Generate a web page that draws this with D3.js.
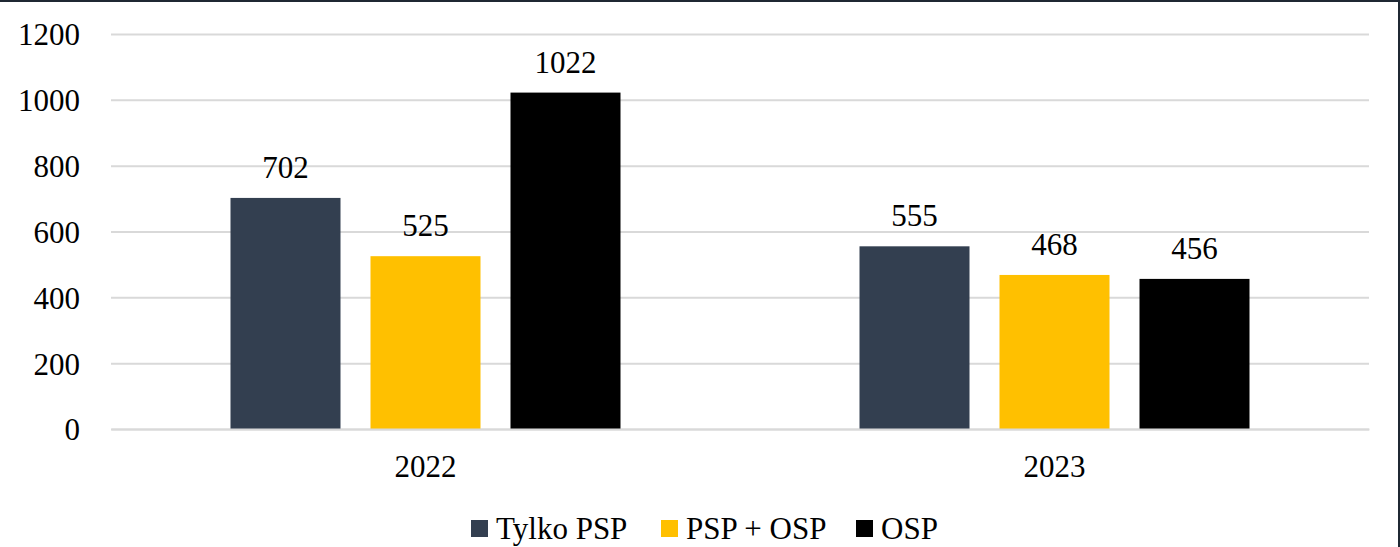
<!DOCTYPE html>
<html><head><meta charset="utf-8">
<script src="https://cdn.jsdelivr.net/npm/d3@7"></script>
<style>body{margin:0;background:#fff}svg{display:block}text{font-family:"Liberation Serif",serif;fill:#000}</style>
</head><body>
<svg id="c" width="1400" height="547"></svg>
<script>
const categories = ["2022", "2023"];
const seriesNames = ["Tylko PSP", "PSP + OSP", "OSP"];
const seriesColors = ["#333F50", "#FFC000", "#000000"];
const tylkoPSP = [702, 555];
const pspOSP = [525, 468];
const osp = [1022, 456];
const yTicks = [0, 200, 400, 600, 800, 1000, 1200];

const seriesValues = [tylkoPSP, pspOSP, osp];
const svg = d3.select("#c");
const W = 1400, H = 547;
const m = {left: 111, right: 31, top: 34, bottom: 118};
const fs = 31;

// frame
svg.append("line").attr("x1",0).attr("x2",W).attr("y1",1).attr("y2",1).attr("stroke","#1f2833").attr("stroke-width",2);
svg.append("line").attr("x1",W-1).attr("x2",W-1).attr("y1",0).attr("y2",H).attr("stroke","#1f2833").attr("stroke-width",2);

const x = d3.scaleBand().domain(categories).range([m.left, W - m.right]);
const y = d3.scaleLinear().domain([0, 1200]).range([H - m.bottom, m.top]);
const barW = 110, gap = 30;
const x1 = d3.scaleBand().domain(seriesNames).range([0, 3*barW + 2*gap]).paddingInner(gap/(barW+gap));

// grid
const yAxis = d3.axisLeft(y).tickValues(yTicks).tickFormat(d3.format("d")).tickSize(-(W - m.left - m.right)).tickPadding(31);
const ga = svg.append("g").attr("transform", `translate(${m.left},0)`).call(yAxis);
ga.select(".domain").remove();
ga.selectAll(".tick line").attr("stroke", "#d9d9d9").attr("stroke-width", 2);
ga.selectAll(".tick text").attr("font-size", fs).attr("font-family","Liberation Serif").attr("fill","#000").attr("dy","0.35em");

// bars
categories.forEach((c, ci) => {
  const gx = x(c) + x.bandwidth()/2 - (3*barW + 2*gap)/2;
  seriesNames.forEach((s, si) => {
    const v = seriesValues[si][ci];
    svg.append("rect").attr("x", gx + x1(s)).attr("width", x1.bandwidth())
      .attr("y", y(v)).attr("height", y(0) - y(v)).attr("fill", seriesColors[si]);
    svg.append("text").attr("x", gx + x1(s) + x1.bandwidth()/2).attr("y", y(v) - 20)
      .attr("text-anchor","middle").attr("font-size", fs).text(v);
  });
});

// x axis labels
const xAxis = d3.axisBottom(x).tickSize(0).tickPadding(26);
const gx = svg.append("g").attr("transform", `translate(0,${y(0)})`).call(xAxis);
gx.select(".domain").attr("stroke","#d9d9d9").attr("stroke-width",2);
gx.selectAll(".tick text").attr("font-size", fs).attr("font-family","Liberation Serif").attr("fill","#000");

// legend
const legendItems = [{x: 471}, {x: 661}, {x: 856}];
seriesNames.forEach((s, i) => {
  const lx = legendItems[i].x;
  svg.append("rect").attr("x", lx).attr("y", 520).attr("width", 17).attr("height", 17).attr("fill", seriesColors[i]);
  svg.append("text").attr("x", lx + 25).attr("y", 539).attr("font-size", fs).text(s);
});
</script>
</body></html>
